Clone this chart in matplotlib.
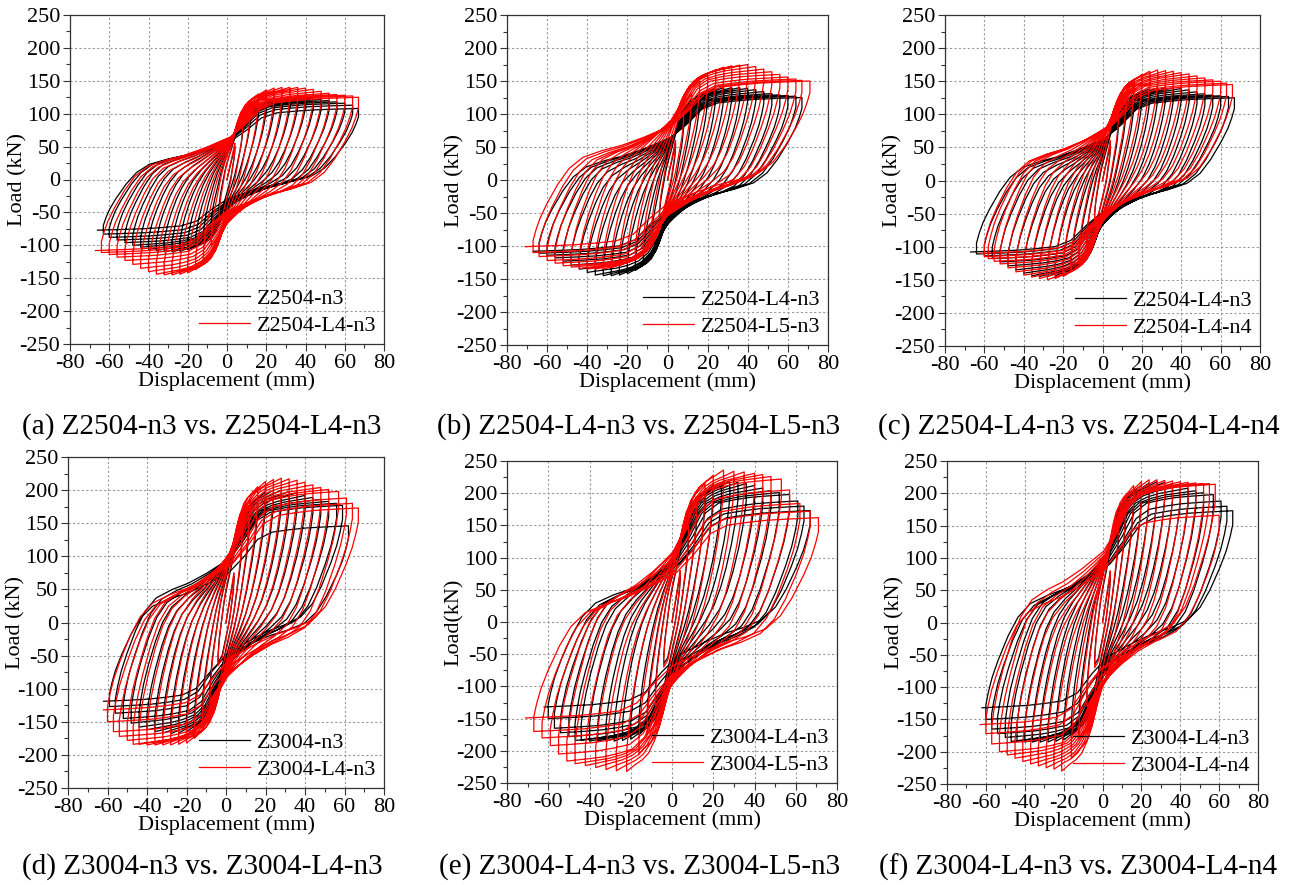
import numpy as np
import matplotlib
matplotlib.use("Agg")
import matplotlib.pyplot as plt
from matplotlib.ticker import MultipleLocator

plt.rcParams['font.family'] = ['Liberation Serif', 'DejaVu Serif']
plt.rcParams['axes.unicode_minus'] = False

# ---------------------------------------------------------------------------
# Peak points of every load cycle (displacement in mm, load in kN)
# ---------------------------------------------------------------------------
Z2504_N3_DPOS = [4, 8, 12, 16, 20, 24, 28, 32, 36, 40, 44, 48, 52, 56, 60, 64, 67]
Z2504_N3_FPOS = [50, 82, 104, 114, 119, 121, 123, 124, 125, 125, 124, 122, 120, 118, 116, 113, 108]
Z2504_N3_DNEG = [-4, -8, -12, -16, -20, -24, -28, -32, -36, -40, -44, -48, -52, -56, -60, -63, -66]
Z2504_N3_FNEG = [-48, -75, -93, -103, -107, -109, -110, -110, -108, -106, -103, -100, -96, -92, -88, -83, -77]

Z2504_L4N3_DPOS = [4, 8, 12, 16, 20, 24, 28, 32, 36, 40, 44, 48, 52, 56, 60, 64, 67]
Z2504_L4N3_FPOS = [55, 90, 118, 130, 136, 139, 140, 140, 140, 139, 137, 134, 131, 129, 128, 127, 125]
Z2504_L4N3_DNEG = [-4, -8, -12, -16, -20, -24, -28, -32, -36, -40, -44, -48, -52, -56, -60, -64, -67]
Z2504_L4N3_FNEG = [-60, -100, -126, -137, -142, -144, -145, -145, -144, -140, -135, -129, -123, -118, -114, -111, -108]

Z2504_L5N3_DPOS = [4, 8, 12, 16, 20, 24, 28, 32, 36, 40, 44, 48, 52, 56, 60, 64, 67, 71]
Z2504_L5N3_FPOS = [60, 100, 130, 150, 160, 167, 171, 173, 174, 175, 172, 168, 164, 160, 156, 153, 151, 150]
Z2504_L5N3_DNEG = [-4, -8, -12, -16, -20, -24, -28, -32, -36, -40, -44, -48, -52, -56, -60, -64, -67, -71]
Z2504_L5N3_FNEG = [-55, -85, -105, -118, -125, -130, -133, -135, -135, -135, -134, -132, -130, -126, -122, -116, -110, -101]

Z2504_L4N4_DPOS = [4, 8, 12, 16, 20, 24, 28, 32, 36, 40, 44, 48, 52, 56, 60, 63, 66]
Z2504_L4N4_FPOS = [60, 100, 130, 150, 160, 165, 167, 166, 165, 163, 161, 158, 155, 152, 150, 147, 145]
Z2504_L4N4_DNEG = [-4, -8, -12, -16, -20, -24, -28, -32, -36, -40, -44, -48, -52, -55, -58, -60, -62]
Z2504_L4N4_FNEG = [-60, -100, -125, -138, -145, -148, -150, -148, -146, -143, -138, -132, -126, -122, -118, -115, -110]

Z3004_N3_DPOS = [4, 8, 12, 16, 20, 24, 28, 32, 36, 40, 44, 48, 52, 56, 59, 62]
Z3004_N3_FPOS = [70, 130, 172, 188, 197, 200, 200, 198, 196, 192, 189, 186, 183, 180, 177, 146]
Z3004_N3_DNEG = [-4, -8, -12, -16, -20, -24, -28, -32, -36, -40, -44, -48, -52, -56, -59, -62]
Z3004_N3_FNEG = [-60, -110, -145, -160, -165, -167, -168, -167, -165, -162, -158, -152, -145, -137, -127, -119]

Z3004_L4N3_DPOS = [4, 8, 12, 16, 20, 24, 28, 32, 36, 40, 44, 48, 52, 57, 61, 64, 67]
Z3004_L4N3_FPOS = [75, 140, 185, 205, 213, 216, 218, 217, 215, 212, 208, 204, 201, 198, 188, 180, 173]
Z3004_L4N3_DNEG = [-4, -8, -12, -16, -20, -24, -28, -32, -36, -40, -44, -47, -50, -54, -57, -60, -62]
Z3004_L4N3_FNEG = [-65, -120, -160, -175, -182, -184, -185, -185, -185, -185, -184, -184, -178, -172, -165, -150, -132]

Z3004_L5N3_DPOS = [4, 8, 12, 16, 20, 25, 30, 35, 40, 44, 48, 53, 57, 62, 67, 71]
Z3004_L5N3_FPOS = [80, 150, 195, 215, 228, 236, 234, 233, 231, 229, 226, 222, 205, 184, 172, 162]
Z3004_L5N3_DNEG = [-4, -8, -12, -16, -22, -27, -32, -37, -42, -47, -51, -55, -59, -63, -67, -71]
Z3004_L5N3_FNEG = [-70, -130, -175, -205, -232, -231, -229, -226, -223, -220, -216, -205, -192, -180, -170, -149]

Z3004_L4N4_DPOS = [4, 8, 12, 16, 20, 24, 28, 32, 36, 40, 44, 48, 52, 55, 58, 60]
Z3004_L4N4_FPOS = [80, 150, 195, 212, 218, 221, 221, 220, 219, 218, 217, 216, 215, 215, 214, 166]
Z3004_L4N4_DNEG = [-4, -8, -12, -16, -21, -25, -29, -33, -37, -41, -45, -49, -53, -57, -60, -63]
Z3004_L4N4_FNEG = [-70, -130, -180, -210, -230, -227, -225, -222, -219, -215, -210, -205, -200, -188, -172, -158]

# normalised path of one half cycle (peak to opposite peak); a small cycle
# is nearly a straight band, a large one is strongly pinched near zero
BRANCH_T = [0, 0, 0.01, 0.025, 0.05, 0.09, 0.13, 0.18, 0.25, 0.32,
            0.4, 0.5, 0.56, 0.62, 0.68, 0.75, 0.82, 0.9, 1.0]
BRANCH_S_SMALL = [0, 0.06, 0.09, 0.13, 0.187, 0.25, 0.305, 0.38, 0.475, 0.55,
                  0.62, 0.709, 0.76, 0.815, 0.87, 0.924, 0.95, 0.97, 1.0]
BRANCH_S_LARGE = [0, 0.07, 0.13, 0.2, 0.285, 0.40, 0.49, 0.555, 0.595, 0.625,
                  0.672, 0.742, 0.825, 0.925, 0.965, 0.978, 0.988, 0.994, 1.0]

SPECIMENS = {
    'Z2504-n3': (Z2504_N3_DPOS, Z2504_N3_FPOS, Z2504_N3_DNEG, Z2504_N3_FNEG),
    'Z2504-L4-n3': (Z2504_L4N3_DPOS, Z2504_L4N3_FPOS, Z2504_L4N3_DNEG, Z2504_L4N3_FNEG),
    'Z2504-L5-n3': (Z2504_L5N3_DPOS, Z2504_L5N3_FPOS, Z2504_L5N3_DNEG, Z2504_L5N3_FNEG),
    'Z2504-L4-n4': (Z2504_L4N4_DPOS, Z2504_L4N4_FPOS, Z2504_L4N4_DNEG, Z2504_L4N4_FNEG),
    'Z3004-n3': (Z3004_N3_DPOS, Z3004_N3_FPOS, Z3004_N3_DNEG, Z3004_N3_FNEG),
    'Z3004-L4-n3': (Z3004_L4N3_DPOS, Z3004_L4N3_FPOS, Z3004_L4N3_DNEG, Z3004_L4N3_FNEG),
    'Z3004-L5-n3': (Z3004_L5N3_DPOS, Z3004_L5N3_FPOS, Z3004_L5N3_DNEG, Z3004_L5N3_FNEG),
    'Z3004-L4-n4': (Z3004_L4N4_DPOS, Z3004_L4N4_FPOS, Z3004_L4N4_DNEG, Z3004_L4N4_FNEG),
}

# black specimen, red specimen, caption, y label, axes box (px: left, right, top, bottom), caption x
PANELS = [
    ('Z2504-n3', 'Z2504-L4-n3', '(a) Z2504-n3 vs. Z2504-L4-n3', 'Load (kN)', (70, 384, 15, 344), 202),
    ('Z2504-L4-n3', 'Z2504-L5-n3', '(b) Z2504-L4-n3 vs. Z2504-L5-n3', 'Load (kN)', (507, 828, 15, 345), 639),
    ('Z2504-L4-n3', 'Z2504-L4-n4', '(c) Z2504-L4-n3 vs. Z2504-L4-n4', 'Load (kN)', (945, 1260, 15, 346), 1079),
    ('Z3004-n3', 'Z3004-L4-n3', '(d) Z3004-n3 vs. Z3004-L4-n3', 'Load (kN)', (68, 384, 457, 788), 202),
    ('Z3004-L4-n3', 'Z3004-L5-n3', '(e) Z3004-L4-n3 vs. Z3004-L5-n3', 'Load(kN)', (507, 837, 461, 783), 640),
    ('Z3004-L4-n3', 'Z3004-L4-n4', '(f) Z3004-L4-n3 vs. Z3004-L4-n4', 'Load (kN)', (947, 1258, 461, 784), 1078),
]

W, H = 1297, 885


def half_cycle(d0, f0, d1, f1):
    t = np.asarray(BRANCH_T)
    amp = abs(d1 - d0) / 2
    w = min(max((amp - 8) / 45, 0.0), 1.0)
    s = (1 - w) * np.asarray(BRANCH_S_SMALL) + w * np.asarray(BRANCH_S_LARGE)
    return d0 + (d1 - d0) * t, f0 + (f1 - f0) * s


def hysteresis(dpos, fpos, dneg, fneg):
    xs, ys = [np.array([0.0])], [np.array([0.0])]
    prev = (0.0, 0.0)
    for i in range(len(dpos)):
        if i == 0:
            xs.append(np.array([dpos[0]]))
            ys.append(np.array([fpos[0]]))
        else:
            x, y = half_cycle(prev[0], prev[1], dpos[i], fpos[i])
            xs.append(x)
            ys.append(y)
        x, y = half_cycle(dpos[i], fpos[i], dneg[i], fneg[i])
        xs.append(x)
        ys.append(y)
        prev = (dneg[i], fneg[i])
    return np.concatenate(xs), np.concatenate(ys)


fig = plt.figure(figsize=(W / 100, H / 100), dpi=100)

for black, red, caption, ylabel, box, cap_x in PANELS:
    l, r, t, b = box
    ax = fig.add_axes([l / W, 1 - b / H, (r - l) / W, (b - t) / H])

    for name, color in ((black, 'black'), (red, '#ff0000')):
        x, y = hysteresis(*SPECIMENS[name])
        ax.plot(x, y, color=color, lw=0.9, label=name)

    ax.set_xlim(-80, 80)
    ax.set_ylim(-250, 250)
    ax.xaxis.set_major_locator(MultipleLocator(20))
    ax.xaxis.set_minor_locator(MultipleLocator(10))
    ax.yaxis.set_major_locator(MultipleLocator(50))
    ax.yaxis.set_minor_locator(MultipleLocator(25))
    ax.tick_params(which='both', direction='out', labelsize=16, pad=2,
                   color='#333333', labelcolor='black')
    ax.tick_params(which='major', length=5, width=0.8)
    ax.tick_params(which='minor', length=3, width=0.8)
    ax.grid(True, which='major', color='#9a9a9a', lw=0.8, linestyle=(0, (2, 2)))
    ax.set_axisbelow(True)
    for sp in ax.spines.values():
        sp.set_color('#333333')
        sp.set_linewidth(0.9)

    ax.set_xlabel('Displacement (mm)', fontsize=16, labelpad=-1)
    ax.set_ylabel(ylabel, fontsize=16)
    ax.yaxis.set_label_coords(-43 / (r - l), 0.5)

    ax.legend(loc='lower right', frameon=False, fontsize=16, handlelength=2.3,
              handletextpad=0.3, labelspacing=0.3, borderaxespad=0.15, borderpad=0.2)

    cap_y = 427 if t < 100 else 867
    fig.text(cap_x / W, 1 - cap_y / H, caption, fontsize=21, ha='center', va='center')

fig.savefig('out.png', dpi=100)
